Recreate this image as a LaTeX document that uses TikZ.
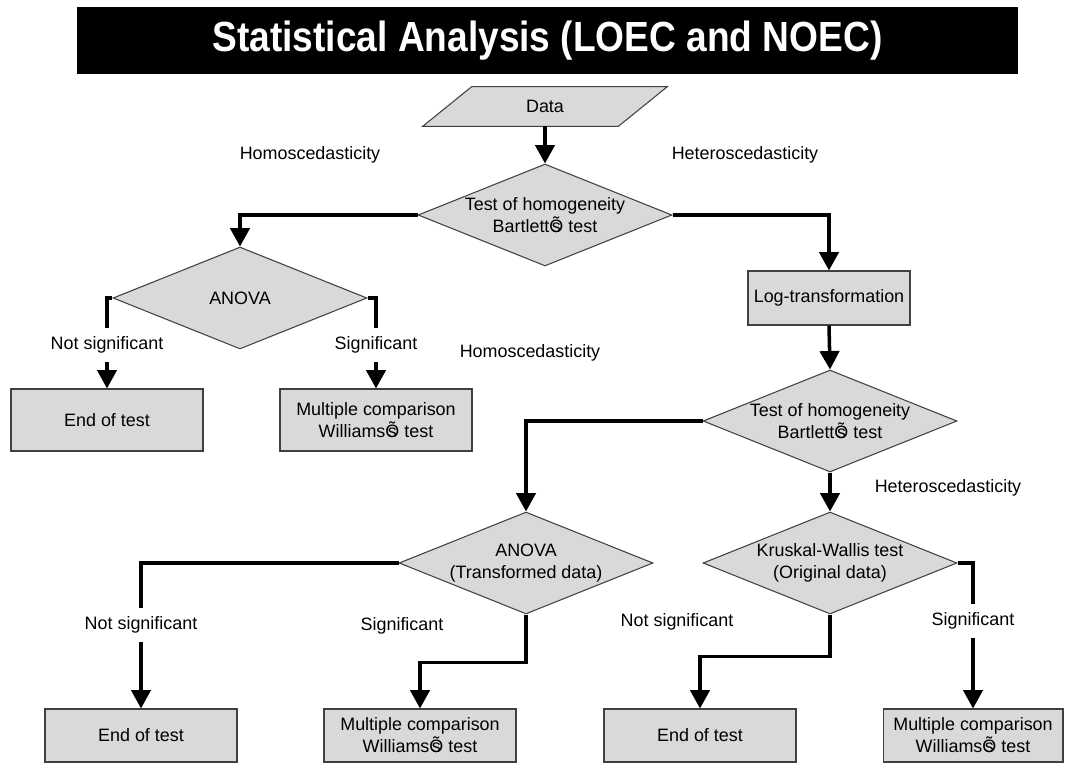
\documentclass[tikz,border=0pt]{standalone}
\usepackage{graphicx}
\usepackage{fontspec}
\setmainfont{Liberation Sans}
\usetikzlibrary{arrows.meta,shapes.geometric,backgrounds,calc,positioning}
\definecolor{boxgray}{RGB}{217,217,217}
\newcommand{\badquote}{\rlap{Õ}\hspace{0.14em}s\hspace{0.14em}}

\begin{document}
\begin{tikzpicture}[x=0.02cm,y=-0.02cm,
  every node/.style={font=\fontsize{10.2}{12.6}\selectfont},
  title/.style={fill=black,text=white,minimum width=18.82cm,minimum height=1.34cm,font=\fontsize{24}{28}\selectfont\bfseries},
  outline/.style={draw=black!75,line width=0.6pt,fill=boxgray},
  box/.style={outline,rectangle,minimum width=3.84cm,minimum height=1.24cm,align=center,inner sep=1pt},
  decision/.style={outline,diamond,aspect=2.44,minimum width=5.08cm,minimum height=2.04cm,inner sep=0pt,align=center},
  conn/.style={line width=2pt},
  arr/.style={conn,-{Triangle[length=10.5pt,width=11pt]}},
  lbl/.style={fill=white,inner xsep=1pt,inner ysep=5pt}]
\useasboundingbox (0,0) rectangle (1065,765);

\node[title] (title) at (547.5,40.5) {\scalebox{0.88}[1]{Statistical Analysis (LOEC and NOEC)}};

% data input
\node[inner sep=0pt,minimum width=3.9cm,minimum height=0.78cm] (data) at (545,106.5) {Data};
\begin{scope}[on background layer]
\draw[outline] ($(data.north west)+(24.5,0)$) -- ($(data.north east)+(24.5,0)$) -- ($(data.south east)+(-24.5,0)$) -- ($(data.south west)+(-24.5,0)$) -- cycle;
\end{scope}

% first test
\node[decision] (homA) at (545,215) {Test of homogeneity\\Bartlett\badquote{} test};
\node[decision] (anovaA) at (240,298) {ANOVA};
\node[box] (endA) at (107,420) {End of test};
\node[box] (multA) at (376,420) {Multiple comparison\\Williams\badquote{} test};
\node[box,minimum width=3.24cm,minimum height=1.08cm] (logtr) at (829,298) {Log-transformation};

% second test
\node[decision] (homB) at (830,421) {Test of homogeneity\\Bartlett\badquote{} test};
\node[decision] (anovaB) at (526,563) {ANOVA\\(Transformed data)};
\node[decision] (kw) at (830,563) {Kruskal-Wallis test\\(Original data)};
\node[box,minimum height=1.06cm] (endB) at (141,735.5) {End of test};
\node[box,minimum height=1.06cm] (multB) at (420,735.5) {Multiple comparison\\Williams\badquote{} test};
\node[box,minimum height=1.06cm] (endC) at (700,735.5) {End of test};
\node[box,minimum height=1.06cm,minimum width=3.6cm] (multC) at (973,735.5) {Multiple comparison\\Williams\badquote{} test};

% connectors
\draw[arr] (data.south) -- (homA.north);
\draw[arr] (homA.west) -| (anovaA.north);
\draw[arr] (homA.east) -| (logtr.north);
\draw[arr] (anovaA.west) -| node[lbl,pos=0.758] {Not significant} (endA.north);
\draw[arr] (anovaA.east) -| node[lbl,pos=0.758] {Significant} (multA.north);
\draw[arr] (logtr.south) -- (homB.north);
\draw[arr] (homB.west) -| (anovaB.north);
\draw[arr] (homB.south) -- (kw.north);
\draw[arr] (anovaB.west) -| node[lbl,pos=0.7125] {Not significant} (endB.north);
\draw[arr] (anovaB.south) -- ++(0,48) -| (multB.north);
\draw[arr] (kw.south) -- ++(0,42) -| (endC.north);
\draw[arr] (kw.east) -| node[lbl,pos=0.70] {Significant} (multC.north);

% branch labels
\node (homoA) at (310,155) {Homoscedasticity};
\node (heteroA) at (745,155) {Heteroscedasticity};
\node (homoB) at (530,353) {Homoscedasticity};
\node (heteroB) at (948,488) {Heteroscedasticity};
\node (sigB) at (402,626) {Significant};
\node (nsigC) at (677,622) {Not significant};
\end{tikzpicture}
\end{document}
